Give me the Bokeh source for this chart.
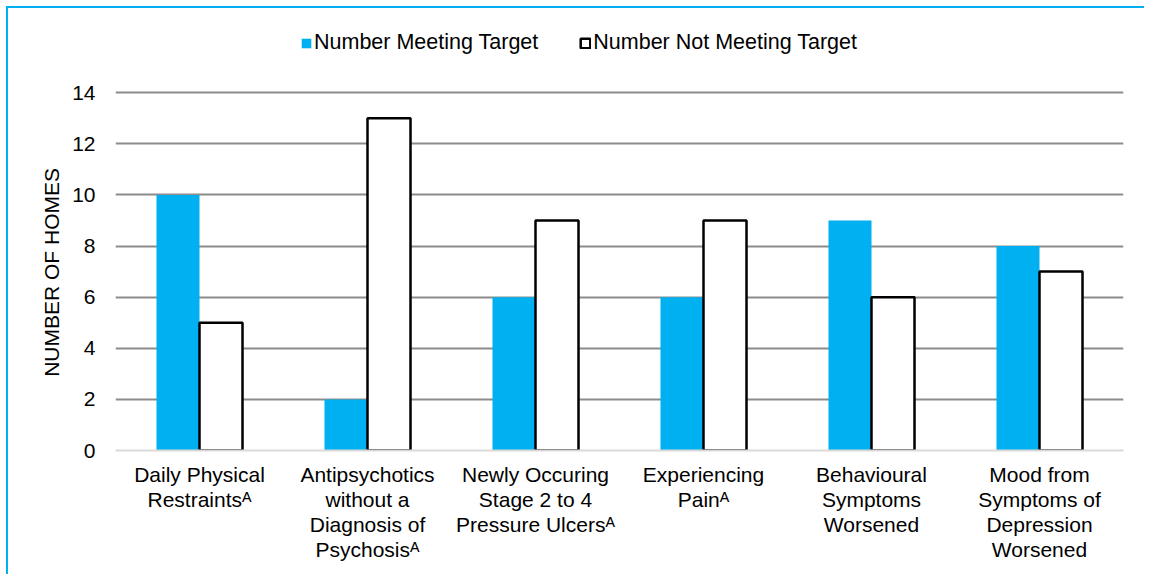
from bokeh.plotting import figure
from bokeh.models import FactorRange, Range1d, FixedTicker, Legend, LegendItem, InlineStyleSheet
from bokeh.transform import dodge
from bokeh.embed import file_html
from bokeh.resources import INLINE

categories = [
    "Daily Physical\nRestraints\u1d2c",
    "Antipsychotics\nwithout a\nDiagnosis of\nPsychosis\u1d2c",
    "Newly Occuring\nStage 2 to 4\nPressure Ulcers\u1d2c",
    "Experiencing\nPain\u1d2c",
    "Behavioural\nSymptoms\nWorsened",
    "Mood from\nSymptoms of\nDepression\nWorsened",
]
meeting = [10, 2, 6, 6, 9, 8]
not_meeting = [5, 13, 9, 9, 6, 7]
y_ticks = [0, 2, 4, 6, 8, 10, 12, 14]

FONT = "Liberation Sans"
FS = "21px"
BLUE = "#00B0F0"

# y range extends above the top tick to leave room for the legend inside the frame
p = figure(
    width=1142, height=568,
    x_range=FactorRange(*categories, range_padding=0),
    y_range=Range1d(0, 16.9),
    output_backend="svg", toolbar_location=None,
    min_border_left=107, min_border_right=27,
    min_border_top=10, min_border_bottom=126,
)
p.margin = (8, 0, 0, 8)
p.stylesheets = [InlineStyleSheet(css=(
    ":host { box-shadow: -2px -2px 0 0 #00B0F0; clip-path: inset(-2px 6px 0 -2px); }"
))]
p.outline_line_color = None
p.background_fill_color = "white"
p.border_fill_color = "white"

src = dict(cat=categories, meeting=meeting, not_meeting=not_meeting)

r1 = p.vbar(x=dodge("cat", -0.128, range=p.x_range), top="meeting", width=0.256,
            source=src, fill_color=BLUE, line_color=None)
r2 = p.vbar(x=dodge("cat", 0.128, range=p.x_range), top="not_meeting", width=0.256,
            source=src, fill_color="white", line_color="black", line_width=2.5)

# grid
p.xgrid.grid_line_color = None
p.ygrid.ticker = FixedTicker(ticks=[t for t in y_ticks if t > 0])
p.ygrid.grid_line_color = "#8c8c8c"
p.ygrid.grid_line_width = 2

# y axis
p.yaxis.ticker = FixedTicker(ticks=y_ticks)
p.yaxis.axis_line_color = None
p.yaxis.major_tick_line_color = None
p.yaxis.minor_tick_line_color = None
p.yaxis.major_tick_in = 0
p.yaxis.major_tick_out = 0
p.yaxis.major_label_standoff = 20
p.yaxis.major_label_text_font = FONT
p.yaxis.major_label_text_font_size = FS
p.yaxis.major_label_text_color = "black"
# non-breaking spaces keep the label centred on the 0-14 band rather than the whole frame
p.yaxis.axis_label = "NUMBER OF HOMES" + "\u00a0" * 13
p.yaxis.axis_label_text_font = FONT
p.yaxis.axis_label_text_font_size = FS
p.yaxis.axis_label_text_font_style = "normal"
p.yaxis.axis_label_text_color = "black"
p.yaxis.axis_label_standoff = 6

# x axis
p.xaxis.axis_line_color = "#d9d9d9"
p.xaxis.axis_line_width = 2
p.xaxis.major_tick_line_color = None
p.xaxis.major_tick_in = 0
p.xaxis.major_tick_out = 0
p.xaxis.major_label_standoff = 12
p.xaxis.major_label_text_font = FONT
p.xaxis.major_label_text_font_size = FS
p.xaxis.major_label_text_color = "black"
p.xaxis.major_label_text_line_height = 1.1

legend = Legend(
    items=[LegendItem(label="Number Meeting Target", renderers=[r1]),
           LegendItem(label="Number Not Meeting Target", renderers=[r2])],
    orientation="horizontal",
    location=(185, 395),
    glyph_width=12, glyph_height=12,
    label_standoff=2, spacing=41, padding=0, margin=0,
    label_text_font=FONT, label_text_font_size="21.5px", label_text_color="black",
    border_line_color=None, background_fill_alpha=0,
)
p.add_layout(legend, "center")

open("out.html", "w").write(file_html(p, INLINE))
